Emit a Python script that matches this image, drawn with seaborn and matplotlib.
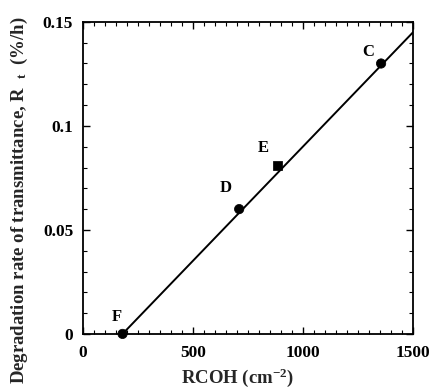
import numpy as np
import pandas as pd
import matplotlib.pyplot as plt
from matplotlib.ticker import MultipleLocator, FuncFormatter
import seaborn as sns

# Samples
samples = ['C', 'D', 'E', 'F']
rcoh = [1355, 710, 885, 180]          # cm^-2
rate = [0.130, 0.060, 0.081, 0.000]   # %/h
shape = ['circle', 'circle', 'square', 'circle']

# Linear fit line as drawn
fit_x = [180, 1500]
fit_y = [0.0, 0.145]

# label offsets (data units) for the letter next to each point
label_dx = [-60, -60, -65, -25]
label_dy = [0.0056, 0.010, 0.0084, 0.0082]

df = pd.DataFrame({'sample': samples, 'RCOH': rcoh, 'rate': rate, 'shape': shape})

sns.set_style('ticks')
plt.rcParams['font.family'] = ['Liberation Serif', 'DejaVu Serif']
plt.rcParams['font.weight'] = 'bold'
plt.rcParams['mathtext.fontset'] = 'custom'
plt.rcParams['mathtext.rm'] = 'Liberation Serif:bold'
plt.rcParams['mathtext.default'] = 'rm'

fig = plt.figure(figsize=(4.32, 3.91), dpi=100)
ax = fig.add_axes([0.192, 0.146, 0.764, 0.798])

sns.lineplot(x=fit_x, y=fit_y, ax=ax, color='black', linewidth=1.4)
sns.scatterplot(data=df, x='RCOH', y='rate', style='shape',
                markers={'circle': 'o', 'square': 's'}, color='black',
                s=45, edgecolor='black', ax=ax, legend=False, zorder=3,
                clip_on=False)

for i, name in enumerate(samples):
    ax.text(rcoh[i] + label_dx[i], rate[i] + label_dy[i], name,
            fontsize=12, ha='center', va='center', color='black',
            fontweight='bold')

ax.set_xlim(0, 1500)
ax.set_ylim(0, 0.15)
ax.xaxis.set_major_locator(MultipleLocator(500))
ax.xaxis.set_minor_locator(MultipleLocator(50))
ax.yaxis.set_major_locator(MultipleLocator(0.05))
ax.yaxis.set_minor_locator(MultipleLocator(0.01))
ax.yaxis.set_major_formatter(FuncFormatter(lambda v, p: f'{v:g}'))

ax.tick_params(which='both', direction='in', top=True, right=True,
               labelsize=12.5, colors='black')
ax.tick_params(axis='x', which='major', pad=8)
ax.tick_params(axis='y', which='major', pad=7)
ax.tick_params(which='major', length=5, width=1.0)
ax.tick_params(which='minor', length=3, width=0.8)
for s in ax.spines.values():
    s.set_linewidth(1.3)
    s.set_color('black')

ax.set_xlabel('RCOH (cm$^{-2}$)', fontsize=13.5, fontweight='bold')
ax.set_ylabel('Degradation rate of transmittance, R$_{\\ \\ t}$  (%/h)',
              fontsize=13.5, fontweight='bold')
ax.xaxis.set_label_coords(0.47, -0.105)
ax.yaxis.set_label_coords(-0.16, 0.43)

fig.savefig('out.png', dpi=100)
